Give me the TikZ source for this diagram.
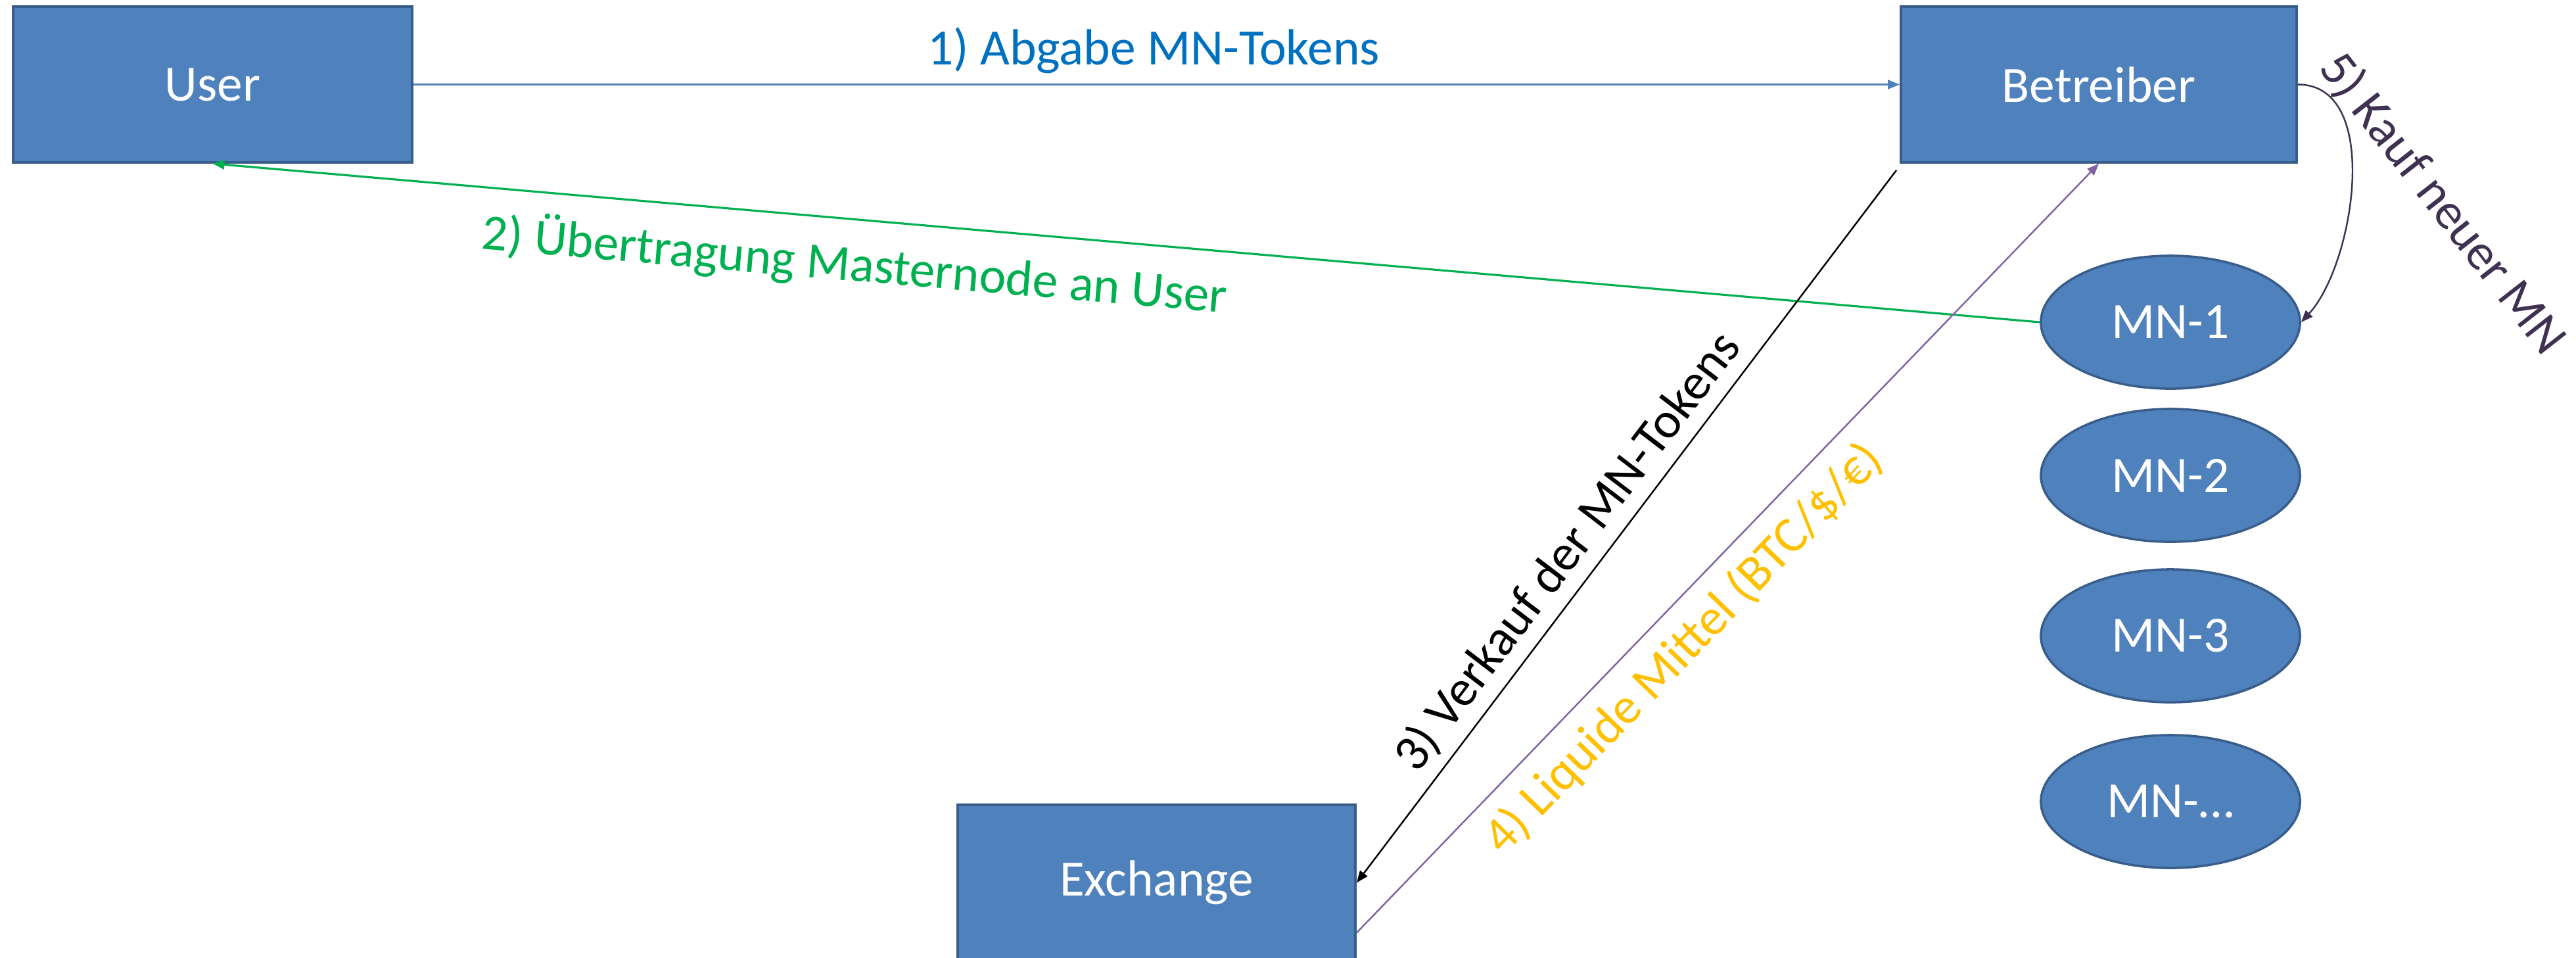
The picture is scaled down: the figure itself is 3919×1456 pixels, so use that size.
\documentclass[tikz,border=0pt]{standalone}
\usepackage{fontspec}
\setmainfont{Carlito}
\usetikzlibrary{arrows.meta,calc,shapes.geometric}
\definecolor{boxfill}{HTML}{4F81BD}
\definecolor{boxline}{HTML}{385D8A}
\definecolor{lblue}{HTML}{0070C0}
\definecolor{lgreen}{HTML}{00B050}
\definecolor{lorange}{HTML}{FFC000}
\definecolor{lpurple}{HTML}{8064A2}
\definecolor{ldark}{HTML}{3F3151}
\begin{document}
\begin{tikzpicture}[x=0.01cm,y=-0.01cm,
  font=\fontsize{22pt}{26pt}\selectfont,
  rectbox/.style={rectangle,draw=boxline,fill=boxfill,line width=1pt,text=white,inner sep=0pt,minimum height=2.37cm},
  mnnode/.style={ellipse,draw=boxline,fill=boxfill,line width=1pt,text=white,inner sep=0pt,minimum width=3.94cm,minimum height=2.02cm},
  tip/.style={-{Triangle[length=0.18cm,width=0.14cm]}},
  lbl/.style={inner sep=0pt}
]
\useasboundingbox (0,0) rectangle (3919,1456);
\fill[white] (0,0) rectangle (3919,1456);

\node[rectbox,minimum width=6.07cm] (user) at (323.5,128.5) {User};
\node[rectbox,minimum width=6.02cm] (betr) at (3193,128.5) {Betreiber};
\node[rectbox,minimum width=6.05cm] (exch) at (1759.5,1342.5) {Exchange};

\node[mnnode] (mn1) at (3302,490) {MN-1};
\node[mnnode] (mn2) at (3302,723) {MN-2};
\node[mnnode] (mn3) at (3302,967) {MN-3};
\node[mnnode] (mn4) at (3302,1219) {MN-\dots};

% 1
\draw[tip,boxfill,line width=0.7pt] (user.east) -- (betr.west);
\node[lbl,text=lblue] (l1) at (1755,77) {1) Abgabe MN-Tokens};
% 2
\draw[tip,lgreen,line width=0.9pt] (mn1.west) -- (user.south);
\node[lbl,text=lgreen,rotate=-4.9] (l2) at (1300,403) {2) Übertragung Masternode an User};
% 3
\draw[tip,black,line width=0.7pt] ([shift={(-5,10)}]betr.south west) -- (exch.east);
\node[lbl,text=black,rotate=52.7] (l3) at (2385,839) {3) Verkauf der MN-Tokens};
% 4
\draw[tip,lpurple,line width=0.7pt] ([yshift=-0.76cm]exch.east) -- (betr.south);
\node[lbl,text=lorange,rotate=46] (l4) at (2562,987) {4) Liquide Mittel (BTC/\$/€)};
% 5
\draw[tip,ldark,line width=0.7pt] (betr.east) .. controls ($(betr.east)+(129,0)$) and ($(mn1.east)+(81,-88)$) .. (mn1.east);
\node[lbl,text=ldark,rotate=-52] (l5) at (3716,310) {5) Kauf neuer MN};
\end{tikzpicture}
\end{document}
